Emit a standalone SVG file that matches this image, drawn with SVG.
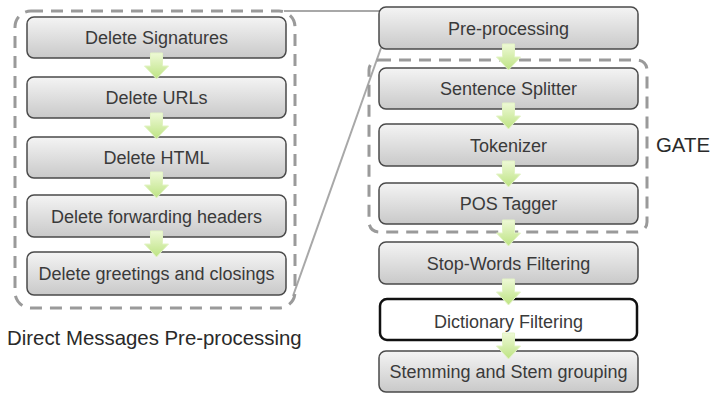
<svg xmlns="http://www.w3.org/2000/svg" width="713" height="396" viewBox="0 0 713 396">
  <defs>
    <linearGradient id="boxFill" x1="0" y1="0" x2="0" y2="1">
      <stop offset="0" stop-color="#f4f4f4"/>
      <stop offset="1" stop-color="#c9c9c9"/>
    </linearGradient>
    <linearGradient id="arrowFill" x1="0" y1="0" x2="0" y2="1">
      <stop offset="0" stop-color="#eef9d6"/>
      <stop offset="1" stop-color="#bde383"/>
    </linearGradient>
    <path id="downArrow" d="M -6 0 H 6 V 13 H 12 L 0 26 L -12 13 H -6 Z"/>
  </defs>
  <style>
    .box { fill: url(#boxFill); stroke: #4a4a4a; stroke-width: 1.5; }
    .boxPlain { fill: #ffffff; stroke: #111111; stroke-width: 2.5; }
    .label { font-family: "Liberation Sans", Arial, sans-serif; font-size: 18px; fill: #3a3a3a; text-anchor: middle; }
    .caption { font-family: "Liberation Sans", Arial, sans-serif; font-size: 20.4px; fill: #2a2a2a; }
    .group { fill: none; stroke: #9a9a9a; stroke-width: 3; stroke-dasharray: 12 8; }
    .link { fill: none; stroke: #a8a8a8; stroke-width: 2; }
    .arrow { fill: url(#arrowFill); stroke: #e2f3c4; stroke-width: 1; }
  </style>

  <!-- connectors: zoom lines from the left group to the Pre-processing step -->
  <g id="connectors">
    <path class="link" d="M 284 11 H 380"/>
    <path class="link" d="M 293 296 L 381 48"/>
  </g>

  <!-- dashed containers -->
  <g id="group-direct-messages">
    <rect class="group" x="15" y="11" width="280" height="297" rx="16"/>
    <text class="caption" x="7" y="345">Direct Messages Pre-processing</text>
  </g>
  <g id="group-gate">
    <rect class="group" x="369" y="60" width="278" height="172" rx="10"/>
    <text class="caption" x="656" y="152">GATE</text>
  </g>

  <!-- left column -->
  <g id="delete-signatures">
    <rect class="box" x="27" y="17" width="259" height="41" rx="7"/>
    <text class="label" x="156.5" y="44">Delete Signatures</text>
  </g>
  <g id="delete-urls">
    <rect class="box" x="27" y="77" width="259" height="41" rx="7"/>
    <text class="label" x="156.5" y="104">Delete URLs</text>
  </g>
  <g id="delete-html">
    <rect class="box" x="27" y="137" width="259" height="41" rx="7"/>
    <text class="label" x="156.5" y="164">Delete HTML</text>
  </g>
  <g id="delete-forwarding-headers">
    <rect class="box" x="27" y="195" width="259" height="42" rx="7"/>
    <text class="label" x="156.5" y="222.5">Delete forwarding headers</text>
  </g>
  <g id="delete-greetings">
    <rect class="box" x="27" y="252" width="259" height="43" rx="7"/>
    <text class="label" x="156.5" y="280">Delete greetings and closings</text>
  </g>

  <!-- right column -->
  <g id="pre-processing">
    <rect class="box" x="379" y="7" width="259" height="42" rx="7"/>
    <text class="label" x="508.5" y="34.5">Pre-processing</text>
  </g>
  <g id="sentence-splitter">
    <rect class="box" x="379" y="68" width="259" height="41" rx="7"/>
    <text class="label" x="508.5" y="95">Sentence Splitter</text>
  </g>
  <g id="tokenizer">
    <rect class="box" x="379" y="124" width="259" height="42" rx="7"/>
    <text class="label" x="508.5" y="151.5">Tokenizer</text>
  </g>
  <g id="pos-tagger">
    <rect class="box" x="379" y="183" width="259" height="41" rx="7"/>
    <text class="label" x="508.5" y="210">POS Tagger</text>
  </g>
  <g id="stop-words">
    <rect class="box" x="379" y="242" width="259" height="42" rx="7"/>
    <text class="label" x="508.5" y="269.5">Stop-Words Filtering</text>
  </g>
  <g id="dictionary-filtering">
    <rect class="boxPlain" x="380" y="299" width="257" height="41" rx="7"/>
    <text class="label" x="508.5" y="327.5">Dictionary Filtering</text>
  </g>
  <g id="stemming">
    <rect class="box" x="379" y="351" width="259" height="41" rx="7"/>
    <text class="label" x="508.5" y="378">Stemming and Stem grouping</text>
  </g>

  <!-- flow arrows between steps -->
  <g id="flow-arrows">
    <use href="#downArrow" class="arrow" x="156.5" y="53"/>
    <use href="#downArrow" class="arrow" x="156.5" y="113"/>
    <use href="#downArrow" class="arrow" x="156.5" y="172"/>
    <use href="#downArrow" class="arrow" x="156.5" y="231"/>
    <use href="#downArrow" class="arrow" x="508.5" y="44"/>
    <use href="#downArrow" class="arrow" x="508.5" y="103"/>
    <use href="#downArrow" class="arrow" x="508.5" y="161"/>
    <use href="#downArrow" class="arrow" x="508.5" y="220"/>
    <use href="#downArrow" class="arrow" x="508.5" y="279"/>
    <use href="#downArrow" class="arrow" x="508.5" y="333"/>
  </g>
</svg>
